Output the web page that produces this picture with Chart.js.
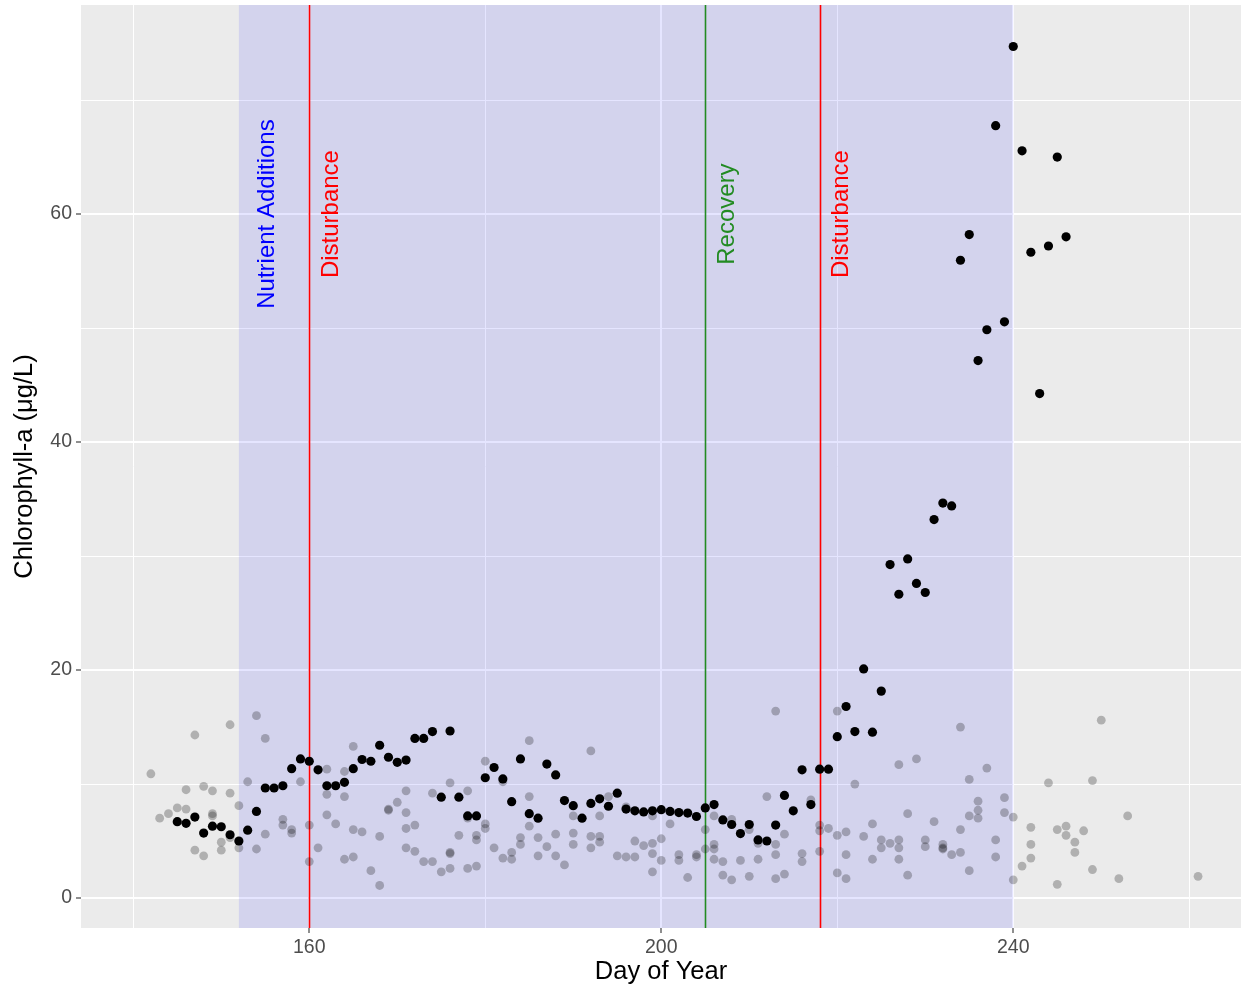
<!DOCTYPE html>
<html>
<head>
<meta charset="utf-8">
<title>Chlorophyll-a by day of year</title>
<script src="https://cdn.jsdelivr.net/npm/chart.js@4.4.1/dist/chart.umd.min.js"></script>
<style>
  html, body { margin: 0; padding: 0; background: #ffffff; }
  #wrap { width: 1241px; height: 989px; }
</style>
</head>
<body>
<div id="wrap"><canvas id="chl" width="1241" height="989"></canvas></div>
<script>
// Focal lake: daily chlorophyll-a (µg/L)
const focalDays = [
  145,146,147,148,149,150,151,152,153,154,
  155,156,157,158,159,160,161,162,163,164,
  165,166,167,168,169,170,171,172,173,174,
  175,176,177,178,179,180,181,182,183,184,
  185,186,187,188,189,190,191,192,193,194,
  195,196,197,198,199,200,201,202,203,204,
  205,206,207,208,209,210,211,212,213,214,
  215,216,217,218,219,220,221,222,223,224,
  225,226,227,228,229,230,231,232,233,234,
  235,236,237,238,239,240,241,242,243,244,
  245,246
];
const focalChl = [
  6.7,6.55,7.1,5.7,6.3,6.25,5.55,5.0,5.95,7.6,
  9.65,9.65,9.85,11.35,12.2,12.0,11.25,9.85,9.85,10.15,
  11.35,12.15,12.0,13.4,12.35,11.9,12.1,14.0,14.0,14.6,
  8.85,14.65,8.85,7.2,7.2,10.55,11.45,10.45,8.45,12.2,
  7.4,7.0,11.75,10.8,8.55,8.1,7.0,8.3,8.7,8.05,
  9.2,7.8,7.65,7.55,7.65,7.75,7.6,7.5,7.45,7.15,
  7.9,8.2,6.85,6.45,5.65,6.45,5.1,5.0,6.4,9.0,
  7.65,11.25,8.2,11.3,11.3,14.15,16.8,14.6,20.1,14.55,
  18.15,29.25,26.65,29.75,27.6,26.8,33.2,34.65,34.4,55.95,
  58.2,47.15,49.85,67.75,50.55,74.7,65.55,56.65,44.25,57.2,
  65.0,58.0
];

// Comparison lakes: chlorophyll-a (µg/L), same sampling days
const otherDays = [
  142,143,144,145,146,146,147,147,148,148,149,149,149,150,150,151,151,151,152,152,153,154,154,155,155,
  157,157,158,158,159,160,160,161,162,162,162,163,164,164,164,165,165,165,166,167,168,168,169,169,
  170,171,171,171,171,172,172,173,174,174,175,176,176,176,176,177,178,178,178,179,179,179,
  180,180,180,181,182,182,183,183,184,184,185,185,185,186,186,187,188,188,189,190,190,190,
  192,192,192,193,193,193,194,195,196,196,197,197,198,199,199,199,199,200,200,201,
  202,202,203,204,204,205,205,206,206,206,206,207,207,208,208,209,210,210,211,211,212,
  213,213,213,213,214,214,216,216,217,218,218,218,219,220,220,220,221,221,221,222,223,224,224,
  225,225,226,227,227,227,227,228,228,229,230,230,231,232,232,232,233,234,234,234,235,235,235,236,236,236,
  237,238,238,239,239,240,240,241,242,242,242,244,245,245,246,246,247,247,248,249,249,250,252,253,261
];
const otherChl = [
  10.9,7.0,7.4,7.9,9.5,7.8,14.3,4.2,9.8,3.7,9.4,7.4,7.2,4.9,4.2,15.2,9.2,5.3,8.1,4.4,10.2,16.0,4.3,14.0,5.6,
  6.9,6.4,6.0,5.7,10.2,6.4,3.2,4.4,11.3,9.1,7.3,6.5,11.1,8.9,3.4,13.3,6.0,3.6,5.8,2.4,5.4,1.1,7.8,7.7,
  8.4,9.4,7.5,6.1,4.4,6.4,4.1,3.2,9.2,3.2,2.3,10.1,4.0,3.9,2.6,5.5,9.4,7.0,2.6,5.5,5.1,2.8,
  12.0,6.5,6.1,4.4,10.2,3.5,4.0,3.4,5.3,4.7,13.8,8.9,6.3,5.3,3.7,4.5,5.6,3.7,2.9,7.2,5.7,4.7,
  12.9,5.4,4.4,7.2,5.4,4.9,8.9,3.7,8.0,3.6,5.0,3.6,4.6,7.2,4.8,3.9,2.3,5.2,3.3,6.5,
  3.8,3.3,1.8,3.8,3.6,6.0,4.3,7.2,4.7,4.3,3.4,3.2,2.0,6.9,1.6,3.3,6.0,1.9,4.8,3.4,8.9,
  16.4,4.7,3.8,1.7,5.6,2.1,3.9,3.2,8.6,6.4,5.9,4.1,6.1,16.4,5.5,2.2,5.8,3.8,1.7,10.0,5.4,6.5,3.4,
  5.1,4.4,4.8,11.7,5.1,4.4,3.4,7.4,2.0,12.2,5.1,4.5,6.7,4.7,4.3,4.4,3.8,15.0,6.0,4.0,10.4,7.2,2.4,8.5,7.7,7.0,
  11.4,5.1,3.6,8.8,7.5,7.1,1.6,2.8,6.2,4.7,3.5,10.1,6.0,1.2,6.3,5.5,4.9,4.0,5.9,10.3,2.5,15.6,1.7,7.2,1.9
];

// Axis ticks (every grid line) and the ones that carry a label
const xTicks = [140, 160, 180, 200, 220, 240, 260];
const xLabelled = [160, 200, 240];
const yTicks = [0, 10, 20, 30, 40, 50, 60, 70];
const yLabelled = [0, 20, 40, 60];

// Experiment timeline
const additionPeriod = [152, 240];
const additionLabel = 'Nutrient Additions';
const eventDays = [160, 205, 218];
const eventNames = ['Disturbance', 'Recovery', 'Disturbance'];

const FONT = '"Liberation Sans", Arial, Helvetica, sans-serif';
const eventColors = { Disturbance: '#ff0000', Recovery: '#228b22' };

function pairs(xs, ys) {
  return xs.map((d, i) => ({ x: d, y: ys[i] }));
}

// Grey panel behind everything inside the plotting area
const panelBackground = {
  id: 'panelBackground',
  beforeDraw(chart) {
    const { ctx, chartArea: a } = chart;
    ctx.save();
    ctx.fillStyle = '#ebebeb';
    ctx.fillRect(a.left, a.top, a.right - a.left, a.bottom - a.top);
    ctx.restore();
  }
};

// Shaded nutrient-addition window, event lines and their rotated labels
const timeline = {
  id: 'timeline',
  beforeDatasetsDraw(chart) {
    const { ctx, chartArea: a, scales: { x, y } } = chart;
    ctx.save();
    ctx.beginPath();
    ctx.rect(a.left, a.top, a.right - a.left, a.bottom - a.top);
    ctx.clip();

    const x0 = x.getPixelForValue(additionPeriod[0]);
    const x1 = x.getPixelForValue(additionPeriod[1]);
    ctx.fillStyle = 'rgba(0, 0, 255, 0.1)';
    ctx.fillRect(x0, a.top, x1 - x0, a.bottom - a.top);

    ctx.lineWidth = 1.6;
    eventDays.forEach((d, i) => {
      const px = Math.round(x.getPixelForValue(d)) + 0.5;
      ctx.strokeStyle = eventColors[eventNames[i]];
      ctx.beginPath();
      ctx.moveTo(px, a.top);
      ctx.lineTo(px, a.bottom);
      ctx.stroke();
    });

    const labelY = y.getPixelForValue(60);
    const drawLabel = (text, px, color) => {
      ctx.save();
      ctx.translate(px, labelY);
      ctx.rotate(-Math.PI / 2);
      ctx.font = '24px ' + FONT;
      ctx.fillStyle = color;
      ctx.textAlign = 'center';
      ctx.textBaseline = 'alphabetic';
      ctx.fillText(text, 0, 0);
      ctx.restore();
    };
    // labels sit just to the right of the line they describe
    drawLabel(additionLabel, x.getPixelForValue(additionPeriod[0]) + 35.5, '#0000ff');
    eventDays.forEach((d, i) => {
      drawLabel(eventNames[i], x.getPixelForValue(d) + 28.5, eventColors[eventNames[i]]);
    });
    ctx.restore();
  }
};

new Chart(document.getElementById('chl'), {
  type: 'scatter',
  data: {
    datasets: [
      {
        label: 'Comparison lakes',
        data: pairs(otherDays, otherChl),
        backgroundColor: 'rgba(0, 0, 0, 0.25)',
        borderWidth: 0,
        pointRadius: 4.4,
        pointHoverRadius: 4.4
      },
      {
        label: 'Focal lake',
        data: pairs(focalDays, focalChl),
        backgroundColor: '#000000',
        borderWidth: 0,
        pointRadius: 4.6,
        pointHoverRadius: 4.6
      }
    ]
  },
  options: {
    responsive: false,
    animation: false,
    events: [],
    layout: { autoPadding: false, padding: { top: 5, right: 0, bottom: 0, left: 0 } },
    plugins: {
      legend: { display: false },
      tooltip: { enabled: false }
    },
    scales: {
      x: {
        type: 'linear',
        min: 134.06,
        max: 265.88,
        afterBuildTicks(scale) { scale.ticks = xTicks.map(v => ({ value: v })); },
        afterFit(scale) {
          scale.height = 61;
          scale.paddingLeft = 0;
          scale.paddingRight = 0;
        },
        border: { display: false },
        grid: {
          color: '#ffffff',
          lineWidth: c => xLabelled.includes(c.tick && c.tick.value) ? 2 : 1,
          drawTicks: true,
          tickLength: 5,
          tickWidth: 1.1,
          tickColor: c => xLabelled.includes(c.tick && c.tick.value) ? '#333333' : 'rgba(0,0,0,0)'
        },
        ticks: {
          autoSkip: false,
          maxRotation: 0,
          padding: 3,
          color: '#4d4d4d',
          font: { family: FONT, size: 19.5 },
          callback: v => xLabelled.includes(v) ? String(v) : ''
        },
        title: {
          display: true,
          text: 'Day of Year',
          color: '#000000',
          font: { family: FONT, size: 25.5, lineHeight: 1.2 },
          padding: { top: 0, bottom: 2 }
        }
      },
      y: {
        type: 'linear',
        min: -2.63,
        max: 78.34,
        afterBuildTicks(scale) { scale.ticks = yTicks.map(v => ({ value: v })); },
        afterFit(scale) {
          scale.width = 81;
          scale.paddingTop = 0;
          scale.paddingBottom = 0;
        },
        border: { display: false },
        grid: {
          color: '#ffffff',
          lineWidth: c => yLabelled.includes(c.tick && c.tick.value) ? 2 : 1,
          drawTicks: true,
          tickLength: 5,
          tickWidth: 1.1,
          tickColor: c => yLabelled.includes(c.tick && c.tick.value) ? '#333333' : 'rgba(0,0,0,0)'
        },
        ticks: {
          autoSkip: false,
          padding: 4,
          color: '#4d4d4d',
          font: { family: FONT, size: 19.5 },
          callback: v => yLabelled.includes(v) ? String(v) : ''
        },
        title: {
          display: true,
          text: 'Chlorophyll-a (μg/L)',
          color: '#000000',
          font: { family: FONT, size: 25.5, lineHeight: 1.2 },
          padding: { top: 10, bottom: 0 }
        }
      }
    }
  },
  plugins: [panelBackground, timeline]
});
</script>
</body>
</html>
